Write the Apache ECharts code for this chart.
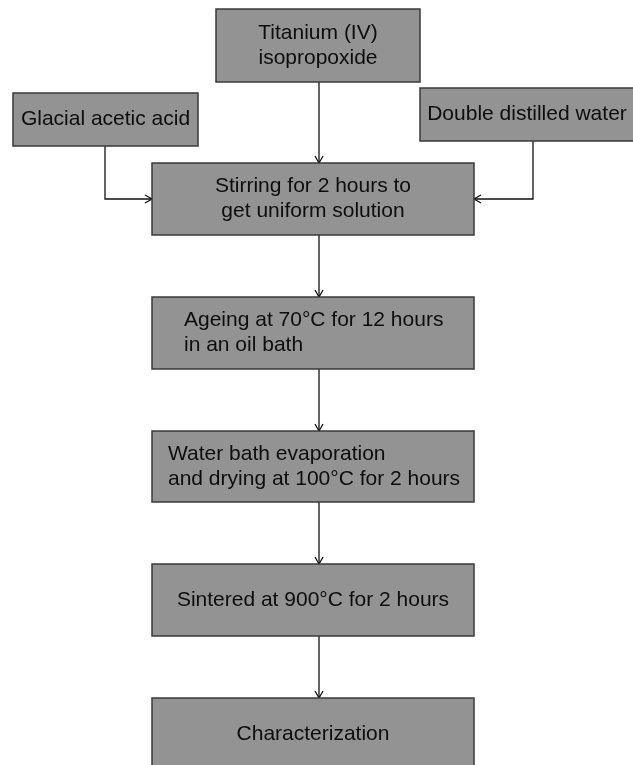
<!DOCTYPE html>
<html>
<head>
<meta charset="utf-8">
<script src="https://cdn.jsdelivr.net/npm/echarts@6/dist/echarts.min.js"></script>
<style>
  html, body { margin: 0; padding: 0; background: #fff; }
  #main { width: 633px; height: 765px; }
</style>
</head>
<body>
<div id="main"></div>
<script>
// step texts
var steps = [
  'Titanium (IV)\nisopropoxide',
  'Glacial acetic acid',
  'Double distilled water',
  'Stirring for 2 hours to\nget uniform solution',
  'Ageing at 70\u00B0C for 12 hours\nin an oil bath',
  'Water bath evaporation\nand drying at 100\u00B0C for 2 hours',
  'Sintered at 900\u00B0C for 2 hours',
  'Characterization'
];
// box layout [x0, y0, x1, y1] in a 633 x 765 frame
var boxes = [
  [216, 9, 420, 82],
  [13, 93, 198, 146],
  [420, 88, 634, 141],
  [152, 163, 474, 235],
  [152, 297, 474, 369],
  [152, 431, 474, 502],
  [152, 564, 474, 636],
  [152, 698, 474, 770]
];
// text alignment per box
var aligns = ['center', 'center', 'center', 'center', 'left', 'left', 'center', 'center'];
var textLeft = [0, 0, 0, 0, 184, 168, 0, 0];
// connector routes
var links = [
  [[319, 82], [319, 163]],
  [[105, 146], [105, 199], [152, 199]],
  [[533, 141], [533, 199], [474, 199]],
  [[319, 235], [319, 297]],
  [[319, 369], [319, 431]],
  [[319, 502], [319, 564]],
  [[319, 636], [319, 698]]
];

var chart = echarts.init(document.getElementById('main'), null, {renderer: 'canvas'});

var boxData = boxes.map(function (b) { return b.slice(); });
var linkData = links.map(function (l, i) { return [l[0][0], l[0][1], i]; });

chart.setOption({
  animation: false,
  grid: {left: 0, right: 0, top: 0, bottom: 0},
  xAxis: {type: 'value', min: 0, max: 633, show: false},
  yAxis: {type: 'value', min: 0, max: 765, inverse: true, show: false},
  series: [
    {
      type: 'custom',
      coordinateSystem: 'cartesian2d',
      clip: false,
      data: linkData,
      encode: {x: 0, y: 1},
      renderItem: function (params, api) {
        var pts = links[params.dataIndex].map(function (p) { return api.coord(p); });
        var a = pts[pts.length - 2], b = pts[pts.length - 1];
        var dx = b[0] - a[0], dy = b[1] - a[1];
        var len = Math.sqrt(dx * dx + dy * dy);
        var ux = dx / len, uy = dy / len;
        var L = 7, W = 4;
        var head = [
          [b[0] - ux * L - uy * W, b[1] - uy * L + ux * W],
          [b[0], b[1]],
          [b[0] - ux * L + uy * W, b[1] - uy * L - ux * W]
        ];
        return {
          type: 'group',
          children: [
            {type: 'polyline', shape: {points: pts}, style: {stroke: '#111', lineWidth: 1.3, fill: null}},
            {type: 'polyline', shape: {points: head}, style: {stroke: '#111', lineWidth: 1.3, fill: null}}
          ]
        };
      }
    },
    {
      type: 'custom',
      coordinateSystem: 'cartesian2d',
      clip: false,
      data: boxData,
      encode: {x: [0, 2], y: [1, 3]},
      renderItem: function (params, api) {
        var i = params.dataIndex;
        var p0 = api.coord([api.value(0), api.value(1)]);
        var p1 = api.coord([api.value(2), api.value(3)]);
        var left = aligns[i] === 'left';
        var tx = left ? api.coord([textLeft[i], 0])[0] : (p0[0] + p1[0]) / 2;
        return {
          type: 'group',
          children: [
            {
              type: 'rect',
              shape: {x: p0[0], y: p0[1], width: p1[0] - p0[0], height: p1[1] - p0[1]},
              style: {fill: '#939393', stroke: '#3a3a3a', lineWidth: 1.5}
            },
            {
              type: 'text',
              x: tx,
              y: (p0[1] + p1[1]) / 2,
              style: {
                text: steps[i],
                font: '21px "Liberation Sans", Arial, sans-serif',
                fill: '#0d0d0d',
                align: aligns[i],
                verticalAlign: 'middle',
                lineHeight: 25
              }
            }
          ]
        };
      }
    }
  ]
});
</script>
</body>
</html>
